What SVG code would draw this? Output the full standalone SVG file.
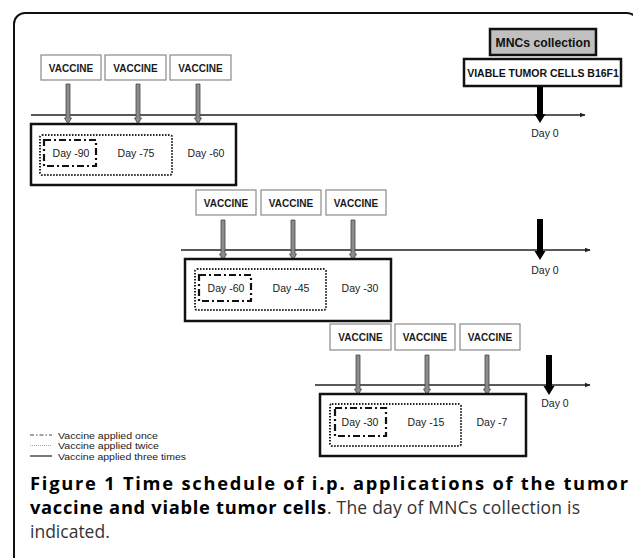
<svg xmlns="http://www.w3.org/2000/svg" width="633" height="558" viewBox="0 0 633 558">
<style>
.vbox{fill:#fff;stroke:#8a8a8a;stroke-width:1.2}
.vt{font-family:"Liberation Sans",Arial,sans-serif;font-weight:bold;font-size:10px;fill:#1a1a1a;text-anchor:middle}
.dt{font-family:"Liberation Sans",Arial,sans-serif;font-size:10.5px;fill:#1a1a1a;text-anchor:middle}
.axis{stroke:#222;stroke-width:1.4;fill:none}
.tbox{fill:none;stroke:#111;stroke-width:2.5}
.dot{fill:none;stroke:#222;stroke-width:2;stroke-dasharray:1.5 1.5}
.dd{fill:none;stroke:#111;stroke-width:2.2;stroke-dasharray:7 3 2 3}
.garrow{fill:#8c8c8c;stroke:#444;stroke-width:0.8}
.barrow{fill:#000}
.lg{font-family:"Liberation Sans",Arial,sans-serif;font-size:9.5px;fill:#222}
.cap{font-family:"Open Sans","Noto Sans",sans-serif;font-size:17.5px;fill:#333}
.capb{font-weight:bold;fill:#000;font-size:18.3px}
</style>
<defs>
<marker id="ah" viewBox="0 0 10 10" refX="9" refY="5" markerWidth="6" markerHeight="6" orient="auto" markerUnits="userSpaceOnUse">
<path d="M0,1 L10,5 L0,9 z" fill="#222"/>
</marker>
<path id="ga" d="M-2,0 H2 V34 H3.5 L0,40 L-3.5,34 H-2 Z"/>
</defs>
<rect x="14" y="13" width="624" height="600" rx="11" fill="none" stroke="#111" stroke-width="2"/>

<g id="connectors">
<line class="axis" x1="31" y1="115" x2="585" y2="115" marker-end="url(#ah)"/>
<line class="axis" x1="181" y1="250" x2="590" y2="250" marker-end="url(#ah)"/>
<line class="axis" x1="315" y1="385" x2="590" y2="385" marker-end="url(#ah)"/>
<use href="#ga" class="garrow" x="68" y="84"/>
<use href="#ga" class="garrow" x="138" y="84"/>
<use href="#ga" class="garrow" x="198" y="84"/>
<use href="#ga" class="garrow" x="223" y="220"/>
<use href="#ga" class="garrow" x="293" y="220"/>
<use href="#ga" class="garrow" x="353" y="220"/>
<use href="#ga" class="garrow" x="358" y="355"/>
<use href="#ga" class="garrow" x="427" y="355"/>
<use href="#ga" class="garrow" x="487" y="355"/>
<path class="barrow" d="M537,86 H543 V114 H545.5 L540,123 L534.5,114 H537 Z"/>
<path class="barrow" d="M537,219 H543 V251 H545.5 L540,260 L534.5,251 H537 Z"/>
<path class="barrow" d="M546,355 H552 V386 H554.5 L549,395 L543.5,386 H546 Z"/>
</g>

<g id="collection">
<rect x="490" y="29" width="106" height="26" fill="#c0c0c0" stroke="#111" stroke-width="2.5"/>
<text x="543" y="46.5" font-family="Liberation Sans,Arial,sans-serif" font-weight="bold" font-size="12.2" fill="#111" text-anchor="middle">MNCs collection</text>
</g>
<g id="tumor">
<rect x="464" y="59" width="157" height="27" fill="#fff" stroke="#111" stroke-width="2.5"/>
<text x="543" y="76.5" font-family="Liberation Sans,Arial,sans-serif" font-weight="bold" font-size="10.5" fill="#111" text-anchor="middle">VIABLE TUMOR CELLS B16F1</text>
</g>

<g id="row1">
<rect class="vbox" x="41" y="55" width="60" height="25"/><text class="vt" x="71" y="71.5">VACCINE</text>
<rect class="vbox" x="105" y="55" width="61" height="25"/><text class="vt" x="135.5" y="71.5">VACCINE</text>
<rect class="vbox" x="170" y="55" width="61" height="25"/><text class="vt" x="200.5" y="71.5">VACCINE</text>
<rect class="tbox" x="31" y="124" width="205" height="61"/>
<rect class="dot" x="40" y="135" width="132" height="40" rx="2"/>
<rect class="dd" x="44" y="140" width="52" height="26"/>
<text class="dt" x="71" y="157">Day -90</text>
<text class="dt" x="136" y="157">Day -75</text>
<text class="dt" x="206" y="157">Day -60</text>
<text class="dt" x="545" y="137">Day 0</text>
</g>

<g id="row2">
<rect class="vbox" x="196" y="190" width="60" height="25"/><text class="vt" x="226" y="206.5">VACCINE</text>
<rect class="vbox" x="261" y="190" width="60" height="25"/><text class="vt" x="291" y="206.5">VACCINE</text>
<rect class="vbox" x="326" y="190" width="60" height="25"/><text class="vt" x="356" y="206.5">VACCINE</text>
<rect class="tbox" x="185" y="259" width="206" height="62"/>
<rect class="dot" x="195" y="269" width="131" height="41" rx="2"/>
<rect class="dd" x="199" y="275" width="52" height="26"/>
<text class="dt" x="226" y="292">Day -60</text>
<text class="dt" x="291" y="292">Day -45</text>
<text class="dt" x="360" y="292">Day -30</text>
<text class="dt" x="545" y="274">Day 0</text>
</g>

<g id="row3">
<rect class="vbox" x="330" y="324" width="61" height="26"/><text class="vt" x="360.5" y="340.5">VACCINE</text>
<rect class="vbox" x="395" y="324" width="60" height="26"/><text class="vt" x="425" y="340.5">VACCINE</text>
<rect class="vbox" x="460" y="324" width="60" height="26"/><text class="vt" x="490" y="340.5">VACCINE</text>
<rect class="tbox" x="320" y="394" width="206" height="62"/>
<rect class="dot" x="330" y="404" width="131" height="42" rx="2"/>
<rect class="dd" x="335" y="408" width="51" height="28"/>
<text class="dt" x="360" y="426">Day -30</text>
<text class="dt" x="426" y="426">Day -15</text>
<text class="dt" x="492" y="426">Day -7</text>
<text class="dt" x="555" y="407">Day 0</text>
</g>

<g id="legend">
<line x1="30" y1="435" x2="52" y2="435" stroke="#444" stroke-width="1" stroke-dasharray="4 2 1.5 2"/>
<line x1="30" y1="445.5" x2="52" y2="445.5" stroke="#aaa" stroke-width="1" stroke-dasharray="1 1"/>
<line x1="30" y1="456" x2="52" y2="456" stroke="#222" stroke-width="1.2"/>
<text class="lg" x="58" y="438.5" textLength="100" lengthAdjust="spacingAndGlyphs">Vaccine applied once</text>
<text class="lg" x="58" y="449" textLength="101" lengthAdjust="spacingAndGlyphs">Vaccine applied twice</text>
<text class="lg" x="58" y="459.5" textLength="128" lengthAdjust="spacingAndGlyphs">Vaccine applied three times</text>
</g>

<g id="caption">
<text class="cap capb" x="30" y="490" textLength="598">Figure 1 Time schedule of i.p. applications of the tumor</text>
<text class="cap capb" x="30" y="514" textLength="296">vaccine and viable tumor cells</text>
<text class="cap" x="327" y="514" textLength="253">. The day of MNCs collection is</text>
<text class="cap" x="30" y="538">indicated.</text>
</g>
</svg>
